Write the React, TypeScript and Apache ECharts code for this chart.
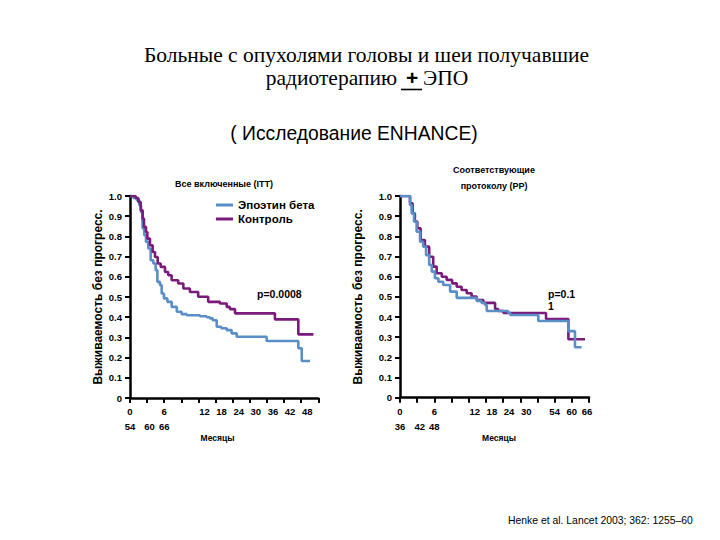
import React, { useEffect, useRef } from 'react';
import * as echarts from 'echarts';

// ---------- data ----------
const seriesNames = ['Эпоэтин бета', 'Контроль'];

// Left panel: all included (ITT)
const ittEpoetin: [number, number][] = [
  [0, 1], [1.2, 0.99], [2.3, 0.98], [3.27, 0.954], [3.86, 0.92], [4.32, 0.888], [4.44, 0.839],
  [5.0, 0.806], [5.6, 0.773], [6.43, 0.74], [7.24, 0.682], [8.18, 0.666], [9.0, 0.633],
  [9.6, 0.575], [10.5, 0.559], [11.1, 0.517], [11.9, 0.493], [13.1, 0.476], [14.6, 0.451],
  [16.4, 0.427], [18.1, 0.415], [19.9, 0.41], [24.5, 0.405], [26.9, 0.4], [28.0, 0.394],
  [29.0, 0.385], [30.4, 0.353], [32.0, 0.345], [33.9, 0.336], [35.6, 0.32], [37.4, 0.303],
  [47.9, 0.282], [59.0, 0.246], [60.2, 0.183], [63.1, 0.183],
];
const ittControl: [number, number][] = [
  [0, 1], [2.0, 0.99], [2.92, 0.97], [3.74, 0.929], [4.44, 0.888], [4.9, 0.847], [5.6, 0.822],
  [6.08, 0.789], [7.0, 0.756], [7.94, 0.723], [8.76, 0.698], [9.7, 0.666], [10.75, 0.649],
  [12.27, 0.624], [13.4, 0.608], [14.6, 0.583], [16.9, 0.567], [18.7, 0.542], [21.0, 0.525],
  [23.9, 0.501], [27.4, 0.476], [31.5, 0.468], [33.9, 0.451], [35.0, 0.44], [36.8, 0.419],
  [50.8, 0.389], [59.0, 0.315], [64.3, 0.315],
];

// Right panel: per protocol (PP)
const ppEpoetin: [number, number][] = [
  [0, 1], [3.5, 0.955], [4.07, 0.914], [4.9, 0.873], [5.8, 0.823], [7.0, 0.773], [8.1, 0.749],
  [9.1, 0.707], [10.2, 0.658], [11.1, 0.625], [12.2, 0.592], [13.4, 0.575], [15.1, 0.559],
  [17.5, 0.526], [19.8, 0.495], [26.8, 0.48], [28.5, 0.47], [29.7, 0.46], [30.3, 0.43],
  [37.8, 0.42], [38.5, 0.41], [48.3, 0.38], [58.8, 0.33], [61.1, 0.25], [63.4, 0.25],
];
const ppControl: [number, number][] = [
  [0, 1], [3.5, 0.964], [4.4, 0.914], [5.2, 0.873], [6.05, 0.84], [7.2, 0.782], [8.7, 0.749],
  [10.2, 0.699], [11.6, 0.65], [12.8, 0.617], [14.6, 0.6], [16.3, 0.584], [18.2, 0.567],
  [19.8, 0.55], [21.5, 0.534], [23.3, 0.518], [25.0, 0.501], [26.8, 0.484], [29.1, 0.47],
  [33.2, 0.44], [34.3, 0.43], [36.1, 0.42], [51.0, 0.39], [58.8, 0.29], [64.6, 0.29],
];

// Tick labels (as printed on the slide, one entry per tick, two rows)
const ittLabelsTop = ['0', '', '6', '', '12', '18', '24', '30', '36', '42', '48', ''];
const ittLabelsBottom = ['54', '60', '66', '', '', '', '', '', '', '', '', ''];
const ppLabelsTop = ['0', '', '6', '', '12', '18', '24', '30', '', '54', '60', '66'];
const ppLabelsBottom = ['36', '42', '48', '', '', '', '', '', '', '', '', ''];

const mainTitle1 = 'Больные с опухолями головы и шеи получавшие';
const mainTitle2a = 'радиотерапию';
const mainTitle2b = '+';
const mainTitle2c = 'ЭПО';
const studyTitle = '( Исследование ENHANCE)';
const ittTitle = 'Все включенные (ITT)';
const ppTitle1 = 'Соответствующие';
const ppTitle2 = 'протоколу (PP)';
const yName = 'Выживаемость без прогресс.';
const xName = 'Месяцы';
const ittP = 'p=0.0008';
const ppP1 = 'p=0.1';
const ppP2 = '1';
const citation = 'Henke et al. Lancet 2003; 362: 1255–60';

// ---------- styling ----------
const BLUE = '#5a8ec6';
const PURPLE = '#7a1b7c';
const SANS = '"Liberation Sans", Arial, sans-serif';
const SERIF = '"Liberation Serif", "Times New Roman", serif';

// per-tick rich style keys (visual nudges of the printed labels)
const ittTopStyle = ['c', 'c', 'c', 'c', 'r', 'r', 'r', 'r', 'r', 'r', 'r', 'c'];
const ittBottomStyle = ['c', 'rs', 'c', 'c', 'c', 'c', 'c', 'c', 'c', 'c', 'c', 'c'];
const ppTopStyle = ['c', 'c', 'c', 'c', 'r', 'r', 'r', 'r', 'c', 'c', 'c', 'l'];
const ppBottomStyle = ['c', 'rs', 'c', 'c', 'c', 'c', 'c', 'c', 'c', 'c', 'c', 'c'];

const richBase = { fontFamily: SANS, fontSize: 9.5, fontWeight: 'bold', color: '#000', lineHeight: 15 };
const rich = {
  c: { ...richBase },
  r: { ...richBase, padding: [0, 0, 0, 12] },
  rs: { ...richBase, padding: [0, 0, 0, 5] },
  l: { ...richBase, padding: [0, 4, 0, 0] },
};

function makeFormatter(top: string[], bottom: string[], ts: string[], bs: string[]) {
  return (value: number) => {
    const i = Math.round(value / 6);
    const t = top[i] || '';
    const b = bottom[i] || '';
    if (!t && !b) return '';
    const tPart = `{${ts[i]}|${t || ' '}}`;
    if (!b) return tPart;
    return `${tPart}\n{${bs[i]}|${b}}`;
  };
}

function xAxisFor(gridIndex: number, fmt: (v: number) => string) {
  return {
    type: 'value',
    gridIndex,
    min: 0,
    max: 66,
    interval: 6,
    axisLine: { show: true, onZero: false, lineStyle: { color: '#000', width: 2.5 } },
    axisTick: { show: true, length: 5, lineStyle: { color: '#000', width: 2 } },
    splitLine: { show: false },
    axisLabel: { show: true, interval: 0, margin: 6, formatter: fmt, rich, showMinLabel: true, showMaxLabel: true },
  };
}

function yAxisFor(gridIndex: number, nameGap: number) {
  return {
    type: 'value',
    gridIndex,
    min: 0,
    max: 1,
    interval: 0.1,
    name: yName,
    nameLocation: 'middle',
    nameGap,
    nameTextStyle: { fontFamily: SANS, fontSize: 12, fontWeight: 'bold', color: '#000' },
    axisLine: { show: true, lineStyle: { color: '#000', width: 2.5 } },
    axisTick: { show: true, length: 5, lineStyle: { color: '#000', width: 2 } },
    splitLine: { show: false },
    axisLabel: {
      margin: 8,
      fontFamily: SANS,
      fontSize: 9.5,
      fontWeight: 'bold',
      color: '#000',
      formatter: (v: number) => (v === 0 ? '0' : v.toFixed(1)),
    },
  };
}

function txt(x: number, y: number, text: string, font: string, align = 'center') {
  return {
    type: 'text',
    x,
    y,
    silent: true,
    style: { text, font, fill: '#000', align, verticalAlign: 'middle' },
  };
}

export default function App() {
  const ref = useRef<HTMLDivElement>(null);

  useEffect(() => {
    if (!ref.current) return;
    const chart = echarts.init(ref.current, undefined, { renderer: 'svg' });

    const lw = 2.6;
    const option = {
      animation: false,
      backgroundColor: '#fff',
      textStyle: { fontFamily: SANS },
      grid: [
        { left: 130, top: 196, width: 188.3, height: 202 },
        { left: 400, top: 196, width: 189, height: 201.7 },
      ],
      xAxis: [
        xAxisFor(0, makeFormatter(ittLabelsTop, ittLabelsBottom, ittTopStyle, ittBottomStyle)),
        xAxisFor(1, makeFormatter(ppLabelsTop, ppLabelsBottom, ppTopStyle, ppBottomStyle)),
      ],
      yAxis: [yAxisFor(0, 26), yAxisFor(1, 36)],
      legend: {
        data: seriesNames,
        orient: 'vertical',
        left: 216,
        top: 199,
        padding: 0,
        itemWidth: 17,
        itemHeight: 3,
        itemGap: 2,
        icon: 'rect',
        textStyle: { fontFamily: SANS, fontSize: 11.5, fontWeight: 'bold', color: '#000' },
      },
      series: [
        {
          name: seriesNames[0], type: 'line', xAxisIndex: 0, yAxisIndex: 0, step: 'end',
          showSymbol: false, symbol: 'none', data: ittEpoetin, color: BLUE,
          lineStyle: { color: BLUE, width: lw },
        },
        {
          name: seriesNames[1], type: 'line', xAxisIndex: 0, yAxisIndex: 0, step: 'end',
          showSymbol: false, symbol: 'none', data: ittControl, color: PURPLE,
          lineStyle: { color: PURPLE, width: lw },
        },
        {
          name: seriesNames[1], type: 'line', xAxisIndex: 1, yAxisIndex: 1, step: 'end',
          showSymbol: false, symbol: 'none', data: ppControl, color: PURPLE,
          lineStyle: { color: PURPLE, width: lw },
        },
        {
          name: seriesNames[0], type: 'line', xAxisIndex: 1, yAxisIndex: 1, step: 'end',
          showSymbol: false, symbol: 'none', data: ppEpoetin, color: BLUE,
          lineStyle: { color: BLUE, width: lw },
        },
      ],
      graphic: [
        txt(366.5, 55, mainTitle1, `21.5px ${SERIF}`),
        txt(397, 78, mainTitle2a, `21.5px ${SERIF}`, 'right'),
        txt(412, 77, mainTitle2b, `bold 21px ${SANS}`),
        txt(423, 78, mainTitle2c, `21.5px ${SERIF}`, 'left'),
        { type: 'line', silent: true, shape: { x1: 401, y1: 89.5, x2: 422, y2: 89.5 }, style: { stroke: '#000', lineWidth: 1.6 } },
        txt(354, 133.5, studyTitle, `19.3px ${SANS}`),
        txt(224, 184, ittTitle, `bold 9px ${SANS}`),
        txt(494, 169.5, ppTitle1, `bold 9px ${SANS}`),
        txt(494, 186, ppTitle2, `bold 9px ${SANS}`),
        txt(217.5, 438, xName, `bold 8.5px ${SANS}`),
        txt(499, 438, xName, `bold 8.5px ${SANS}`),
        txt(257, 293.5, ittP, `bold 10.5px ${SANS}`, 'left'),
        txt(548, 294, ppP1, `bold 10.5px ${SANS}`, 'left'),
        txt(548, 305.5, ppP2, `bold 10.5px ${SANS}`, 'left'),
        txt(508, 520.5, citation, `10.4px ${SANS}`, 'left'),
      ],
    };

    chart.setOption(option as any);
    return () => chart.dispose();
  }, []);

  return (
    <div
      ref={ref}
      style={{ position: 'fixed', left: 0, top: 0, width: 720, height: 540, background: '#fff' }}
    />
  );
}
